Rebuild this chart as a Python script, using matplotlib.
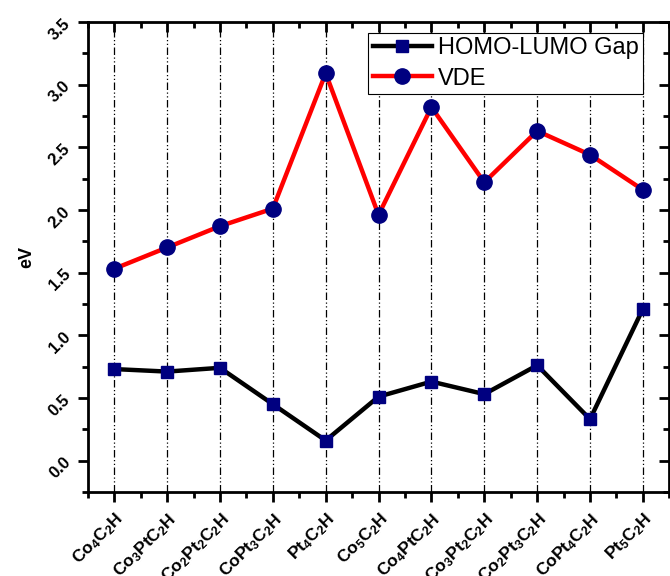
import matplotlib
matplotlib.use('Agg')
import matplotlib.pyplot as plt
import matplotlib.transforms as mtrans
from matplotlib.ticker import MultipleLocator, FormatStrFormatter

plt.rcParams['font.family'] = ['Liberation Sans', 'DejaVu Sans']
plt.rcParams['mathtext.fontset'] = 'custom'
plt.rcParams['mathtext.rm'] = 'Liberation Sans'
plt.rcParams['mathtext.bf'] = 'Liberation Sans:bold'

clusters = ['Co_4C_2H', 'Co_3PtC_2H', 'Co_2Pt_2C_2H', 'CoPt_3C_2H', 'Pt_4C_2H',
            'Co_5C_2H', 'Co_4PtC_2H', 'Co_3Pt_2C_2H', 'Co_2Pt_3C_2H',
            'CoPt_4C_2H', 'Pt_5C_2H']
gap = [0.73, 0.71, 0.74, 0.45, 0.16, 0.51, 0.63, 0.53, 0.76, 0.33, 1.21]
vde = [1.53, 1.70, 1.87, 2.01, 3.09, 1.96, 2.82, 2.22, 2.63, 2.44, 2.16]

x = list(range(len(clusters)))

fig = plt.figure(figsize=(6.7, 5.76), dpi=100)
ax = fig.add_axes([0.131, 0.146, 0.868, 0.816])

for xi in x:
    ax.axvline(xi, color='black', lw=0.9, ls=(0, (6, 2, 1, 2, 1, 2)), zorder=0)

ax.plot(x, gap, color='black', lw=3.2, marker='s', ms=9,
        mfc='#000080', mec='#000080', label='HOMO-LUMO Gap')
ax.plot(x, vde, color='red', lw=3.2, marker='o', ms=11,
        mfc='#000080', mec='#000080', label='VDE')

ax.set_xlim(-0.5, 10.37)
ax.set_ylim(-0.25, 3.5)
ax.yaxis.set_major_locator(MultipleLocator(0.5))
ax.yaxis.set_minor_locator(MultipleLocator(0.25))
ax.yaxis.set_major_formatter(FormatStrFormatter('%.1f'))
ax.set_xticks(x)
ax.set_xticks([i + 0.5 for i in range(-1, 11)], minor=True)
ax.set_xticklabels([r'$\mathbf{' + c + '}$' for c in clusters],
                   rotation=45, ha='right', rotation_mode='anchor', fontsize=12.5)
shift = mtrans.ScaledTranslation(16 / 100, 0, fig.dpi_scale_trans)
for lab in ax.get_xticklabels():
    lab.set_transform(lab.get_transform() + shift)
for lab in ax.get_yticklabels():
    lab.set_rotation(45)
    lab.set_fontweight('bold')
    lab.set_fontsize(12)

ax.tick_params(which='both', direction='out', width=2, top=False, right=False)
ax.tick_params(which='major', length=7)
ax.tick_params(which='minor', length=4)
ax.tick_params(axis='x', pad=6)
for s in ax.spines.values():
    s.set_linewidth(2)

ax_top = ax.secondary_xaxis('top')
ax_top.set_xticks(x)
ax_top.set_xticks([i + 0.5 for i in range(-1, 11)], minor=True)
ax_top.tick_params(which='both', direction='in', width=2, labeltop=False)
ax_top.tick_params(which='major', length=7)
ax_top.tick_params(which='minor', length=4)
ax_right = ax.secondary_yaxis('right')
ax_right.yaxis.set_major_locator(MultipleLocator(0.5))
ax_right.yaxis.set_minor_locator(MultipleLocator(0.25))
ax_right.tick_params(which='both', direction='in', width=2, labelright=False)
ax_right.tick_params(which='major', length=7)
ax_right.tick_params(which='minor', length=4)

ax.set_ylabel('eV', fontweight='bold', fontsize=13, labelpad=8)

leg = ax.legend(loc='upper right', bbox_to_anchor=(0.955, 0.977), fontsize=17,
                fancybox=False, edgecolor='black', framealpha=1,
                handlelength=2.5, borderpad=0.2, labelspacing=0.35,
                handletextpad=0.25, borderaxespad=0)
leg.get_frame().set_linewidth(0.8)

fig.savefig('out.png', dpi=100)
